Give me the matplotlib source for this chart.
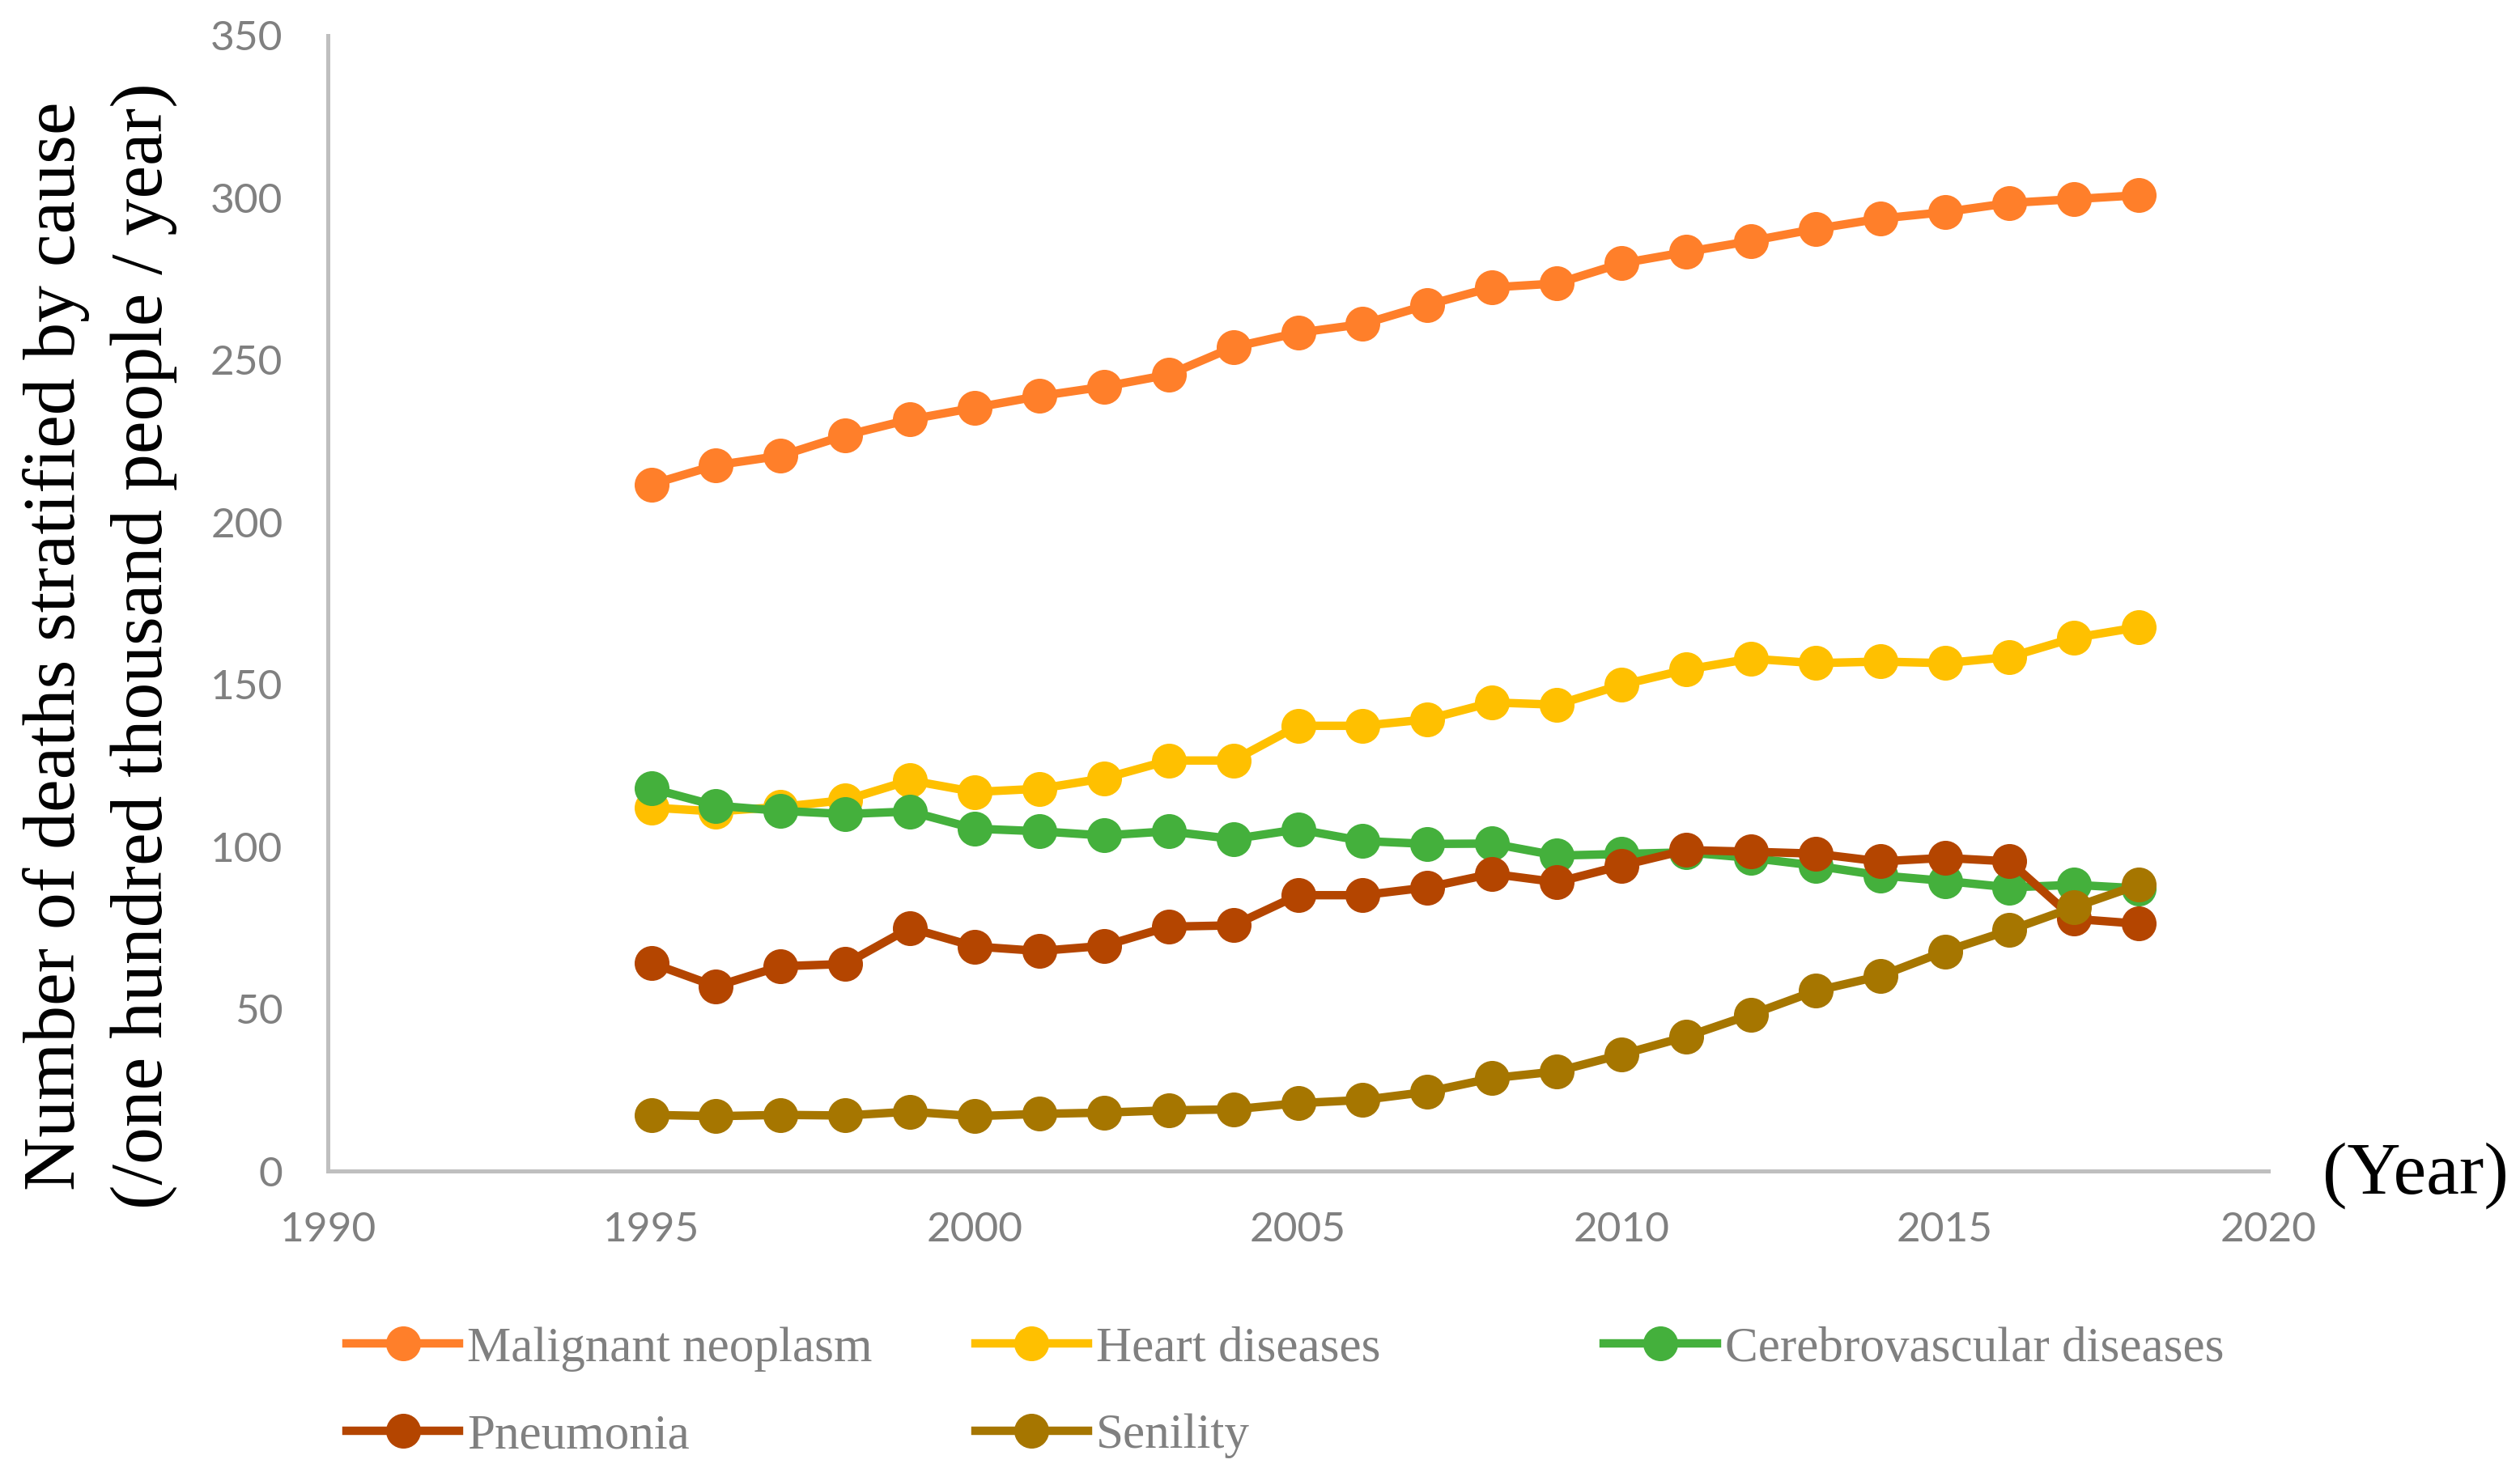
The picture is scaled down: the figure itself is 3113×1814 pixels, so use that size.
import numpy as np
import matplotlib
matplotlib.use("Agg")
import matplotlib.pyplot as plt

years = list(range(1995, 2019))

malignant = [211.6, 217.5, 220.4, 226.7, 231.6, 235.2, 238.8, 241.7, 245.4, 253.9, 258.3, 261.0,
             266.9, 272.3, 273.5, 279.7, 283.2, 286.6, 290.3, 293.5, 295.5, 298.3, 299.5, 300.7]
heart = [112.0, 110.8, 112.2, 114.3, 120.4, 116.8, 117.8, 121.0, 126.5, 126.5, 137.2, 137.2,
         139.2, 144.4, 143.7, 149.8, 154.5, 157.9, 156.5, 157.0, 156.5, 158.4, 164.3, 167.6]
cerebro = [117.9, 112.6, 111.0, 110.0, 110.8, 105.5, 104.7, 103.4, 104.7, 102.3, 105.3, 101.7,
           100.8, 100.9, 97.2, 97.7, 98.2, 96.5, 94.1, 91.1, 89.4, 87.4, 88.2, 87.1]
pneumonia = [64.1, 56.9, 63.1, 63.8, 74.9, 69.2, 67.8, 69.4, 75.3, 75.7, 85.0, 85.0,
             87.4, 91.6, 89.0, 94.1, 98.9, 98.4, 97.8, 95.4, 96.5, 95.4, 77.7, 76.2]
senility = [17.3, 16.9, 17.3, 17.1, 18.3, 16.9, 17.6, 18.0, 18.7, 19.0, 20.9, 21.9,
            24.4, 28.6, 30.7, 35.9, 41.4, 48.2, 55.5, 60.1, 67.7, 74.2, 81.3, 88.2]

names = ["Malignant neoplasm", "Heart diseases", "Cerebrovascular diseases", "Pneumonia", "Senility"]
series = [malignant, heart, cerebro, pneumonia, senility]
colors = ["#FF7F2A", "#FFC000", "#44B03C", "#B44500", "#A67600"]

x_ticks = [1990, 1995, 2000, 2005, 2010, 2015, 2020]
y_ticks = [0, 50, 100, 150, 200, 250, 300, 350]

serif = "Liberation Serif"
tick_font = "Lato"
grey = "#808080"

fig = plt.figure(figsize=(31.13, 18.14), dpi=100)
ax = fig.add_axes([0.1301, 0.2023, 0.770, 0.7737])

lines = []
for name, vals, c in zip(names, series, colors):
    ln, = ax.plot(years, vals, color=c, lw=7.5, marker='o', ms=31,
                  markerfacecolor=c, markeredgecolor=c, markeredgewidth=0,
                  label=name, clip_on=False)
    lines.append(ln)

ax.set_xlim(1990, 2020)
ax.set_ylim(0, 350)
ax.set_xticks(x_ticks)
ax.set_yticks(y_ticks)
for s in ["top", "right"]:
    ax.spines[s].set_visible(False)
for s in ["left", "bottom"]:
    ax.spines[s].set_color("#BFBFBF")
    ax.spines[s].set_linewidth(3.6)
ax.tick_params(axis='both', length=0, labelcolor=grey, labelsize=37)
ax.tick_params(axis='x', pad=36)
ax.tick_params(axis='y', pad=40)
for lab in ax.get_xticklabels() + ax.get_yticklabels():
    lab.set_fontfamily(tick_font)

fig.text(0.0396, 0.56, "Number of deaths stratified by cause\n(/one hundred thousand people / year)",
         rotation=90, ha='center', va='center', multialignment='center',
         fontsize=66, family=serif, color="black", linespacing=1.4)
fig.text(0.9587, 0.199, "(Year)", ha='center', va='center', fontsize=66,
         family=serif, color="black")

# legend laid out row by row with fixed column widths
cols = [[0, 3], [1, 4], [2]]
col_x = [0.1375, 0.387, 0.6365]
for idx, xx in zip(cols, col_x):
    leg = fig.legend(handles=[lines[i] for i in idx], loc='upper left',
                     bbox_to_anchor=(xx, 0.0966), frameon=False, borderpad=0,
                     borderaxespad=0, handlelength=2.28, handletextpad=0.16,
                     labelspacing=0.85, prop={'family': serif, 'size': 44})
    for t in leg.get_texts():
        t.set_color(grey)

fig.savefig("out.png", dpi=100)
